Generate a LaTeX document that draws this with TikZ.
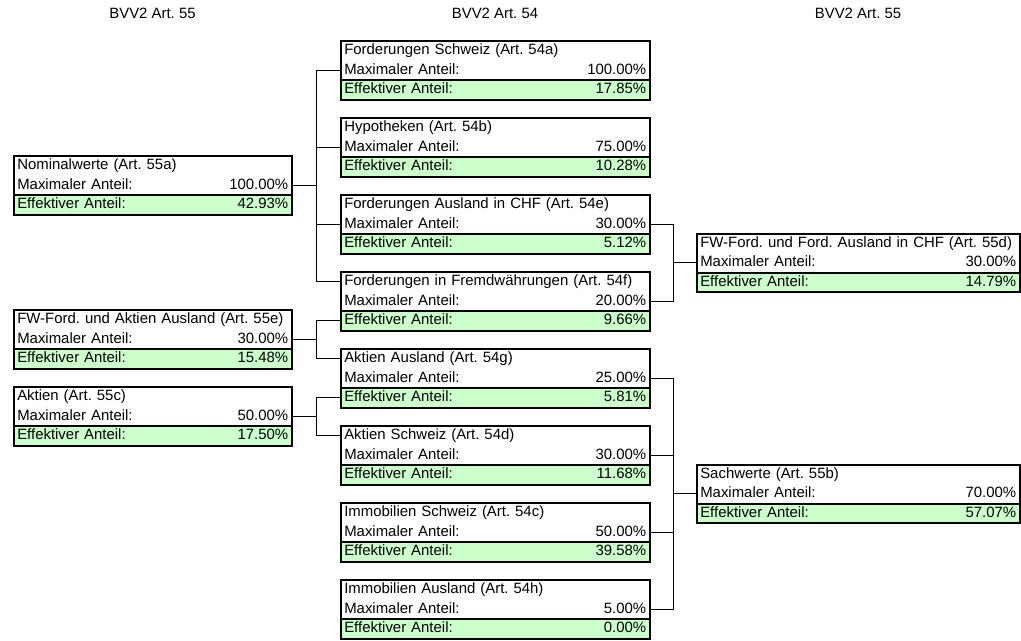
\documentclass[tikz,border=0pt]{standalone}
\usepackage{fontspec}
\setmainfont{Liberation Sans}
\usepackage{tikz}
\usepackage{xcolor}
\definecolor{effgruen}{RGB}{204,255,204}
\frenchspacing

\newcommand{\anteilbox}[7]{%
\node[zeile, text width=#4, anchor=north west] (#1-t) at (#2,#3) {\mbox{#5}};
\node[zeile, text width=#4, anchor=north west] (#1-m) at (#1-t.south west) {Maximaler Anteil:\hfill #6};
\node[zeile, fill=effgruen, text width=#4, anchor=north west] (#1-e) at (#1-m.south west) {Effektiver Anteil:\hfill #7};
\draw[rahmen] (#1-t.north west) rectangle (#1-e.south east);
\draw[rahmen] (#1-e.north west) -- (#1-e.north east);
}

\begin{document}
\begin{tikzpicture}[x=0.75pt,y=-0.75pt,
  font=\fontsize{11.2}{13}\selectfont,
  zeile/.style={inner xsep=2.25pt, inner ysep=0pt, minimum height=14.25pt,
    text height=8.2pt, text depth=2.2pt, align=left},
  rahmen/.style={line width=1.5pt},
  linie/.style={line width=0.75pt}]
\useasboundingbox (0,0) rectangle (1021,640);
\node (kopf1) at (152.5,13) {BVV2 Art. 55};
\node (kopf2) at (495,13) {BVV2 Art. 54};
\node (kopf3) at (858,13) {BVV2 Art. 55};
\coordinate (links) at (316,0);
\coordinate (rechts) at (673,0);
\anteilbox{nom}{14}{156}{203.25pt}{Nominalwerte (Art. 55a)}{100.00\%}{42.93\%}
\anteilbox{fwa}{14}{310}{203.25pt}{FW-Ford. und Aktien Ausland (Art. 55e)}{30.00\%}{15.48\%}
\anteilbox{akt}{14}{387}{203.25pt}{Aktien (Art. 55c)}{50.00\%}{17.50\%}
\anteilbox{fsch}{341}{41}{226.5pt}{Forderungen Schweiz (Art. 54a)}{100.00\%}{17.85\%}
\anteilbox{hyp}{341}{118}{226.5pt}{Hypotheken (Art. 54b)}{75.00\%}{10.28\%}
\anteilbox{fchf}{341}{195}{226.5pt}{Forderungen Ausland in CHF (Art. 54e)}{30.00\%}{5.12\%}
\anteilbox{ffw}{341}{272}{226.5pt}{Forderungen in Fremdwährungen (Art. 54f)}{20.00\%}{9.66\%}
\anteilbox{aaus}{341}{349}{226.5pt}{Aktien Ausland (Art. 54g)}{25.00\%}{5.81\%}
\anteilbox{asch}{341}{426}{226.5pt}{Aktien Schweiz (Art. 54d)}{30.00\%}{11.68\%}
\anteilbox{isch}{341}{503}{226.5pt}{Immobilien Schweiz (Art. 54c)}{50.00\%}{39.58\%}
\anteilbox{iaus}{341}{580}{226.5pt}{Immobilien Ausland (Art. 54h)}{5.00\%}{0.00\%}
\anteilbox{fwf}{697}{233.5}{237pt}{FW-Ford. und Ford. Ausland in CHF (Art. 55d)}{30.00\%}{14.79\%}
\anteilbox{sach}{697}{464.5}{237pt}{Sachwerte (Art. 55b)}{70.00\%}{57.07\%}
\draw[linie] (nom-m.east) -- (nom-m.east -| links) |- (fsch-m.west);
\draw[linie] (nom-m.east) -- (nom-m.east -| links) |- (hyp-m.west);
\draw[linie] (nom-m.east) -- (nom-m.east -| links) |- (fchf-m.west);
\draw[linie] (nom-m.east) -- (nom-m.east -| links) |- (ffw-t.west);
\draw[linie] (fwa-m.east) -- (fwa-m.east -| links) |- (ffw-e.west);
\draw[linie] (fwa-m.east) -- (fwa-m.east -| links) |- (aaus-t.west);
\draw[linie] (akt-m.east) -- (akt-m.east -| links) |- (aaus-e.west);
\draw[linie] (akt-m.east) -- (akt-m.east -| links) |- (asch-t.west);
\draw[linie] (fchf-m.east) -- (fchf-m.east -| rechts) |- (fwf-m.west);
\draw[linie] (ffw-m.east) -- (ffw-m.east -| rechts) |- (fwf-m.west);
\draw[linie] (aaus-m.east) -- (aaus-m.east -| rechts) |- (sach-m.west);
\draw[linie] (asch-m.east) -- (asch-m.east -| rechts) |- (sach-m.west);
\draw[linie] (isch-m.east) -- (isch-m.east -| rechts) |- (sach-m.west);
\draw[linie] (iaus-m.east) -- (iaus-m.east -| rechts) |- (sach-m.west);
\end{tikzpicture}
\end{document}
